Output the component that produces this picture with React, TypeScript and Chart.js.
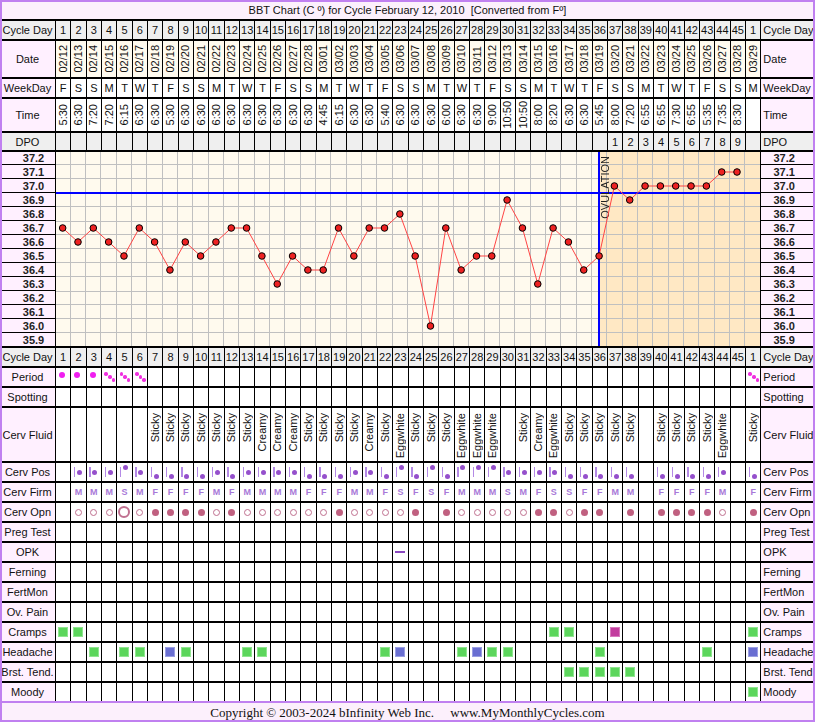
import React, { useEffect, useRef } from 'react';
import { Chart, registerables } from 'chart.js';

Chart.register(...registerables);

// ---------------- DATA ----------------
const titleText = 'BBT Chart (C \u00BA) for Cycle February 12, 2010  [Converted from F\u00BA]';
const copyrightText = 'Copyright \u00A9 2003-2024 bInfinity Web Inc.     www.MyMonthlyCycles.com';

const cycleDays = ['1','2','3','4','5','6','7','8','9','10','11','12','13','14','15','16','17','18','19','20','21','22','23','24','25','26','27','28','29','30','31','32','33','34','35','36','37','38','39','40','41','42','43','44','45','1'];
const dates = ['02/12','02/13','02/14','02/15','02/16','02/17','02/18','02/19','02/20','02/21','02/22','02/23','02/24','02/25','02/26','02/27','02/28','03/01','03/02','03/03','03/04','03/05','03/06','03/07','03/08','03/09','03/10','03/11','03/12','03/13','03/14','03/15','03/16','03/17','03/18','03/19','03/20','03/21','03/22','03/23','03/24','03/25','03/26','03/27','03/28','03/29'];
const weekDays = ['F','S','S','M','T','W','T','F','S','S','M','T','W','T','F','S','S','M','T','W','T','F','S','S','M','T','W','T','F','S','S','M','T','W','T','F','S','S','M','T','W','T','F','S','S','M'];
const times = ['5:30','6:30','7:20','7:20','6:15','6:30','6:30','5:30','6:30','6:30','6:30','6:30','6:30','6:30','6:30','6:30','6:30','4:45','6:15','6:30','6:30','5:40','6:30','6:30','6:30','6:00','6:30','6:30','9:00','10:50','10:50','8:00','8:20','6:30','6:30','5:45','8:00','7:20','6:55','6:55','7:30','6:55','5:35','7:35','8:30',''];
const dpo = ['','','','','','','','','','','','','','','','','','','','','','','','','','','','','','','','','','','','','1','2','3','4','5','6','7','8','9',''];
const temps = [36.7,36.6,36.7,36.6,36.5,36.7,36.6,36.4,36.6,36.5,36.6,36.7,36.7,36.5,36.3,36.5,36.4,36.4,36.7,36.5,36.7,36.7,36.8,36.5,36.0,36.7,36.4,36.5,36.5,36.9,36.7,36.3,36.7,36.6,36.4,36.5,37.0,36.9,37.0,37.0,37.0,37.0,37.0,37.1,37.1,null];
const tempTicks = ['37.2','37.1','37.0','36.9','36.8','36.7','36.6','36.5','36.4','36.3','36.2','36.1','36.0','35.9'];
const coverline = 36.95;
const ovulationDay = 36;

const period = ['H','H','H','L','L','L','','','','','','','','','','','','','','','','','','','','','','','','','','','','','','','','','','','','','','','','L'];
const cervFluid = ['','','','','','','Sticky','Sticky','Sticky','Sticky','Sticky','Sticky','Sticky','Creamy','Creamy','Creamy','Sticky','Sticky','Sticky','Sticky','Creamy','Sticky','Eggwhite','Sticky','Sticky','Sticky','Eggwhite','Eggwhite','Eggwhite','','Sticky','Creamy','Eggwhite','Sticky','Sticky','Sticky','Sticky','Sticky','','Sticky','Sticky','Sticky','Sticky','Eggwhite','','Sticky'];
const cervPos = ['','M','M','M','H','M','L','L','L','L','M','L','M','M','M','M','L','L','L','M','M','L','H','L','H','L','H','H','H','M','M','M','M','L','L','L','L','L','','L','L','L','L','M','','L'];
const cervFirm = ['','M','M','M','S','M','F','F','F','F','M','F','M','M','M','M','F','F','F','M','M','F','S','F','S','F','M','M','M','S','M','F','S','S','F','F','M','M','','F','F','F','F','M','','F'];
const cervOpn = ['','o','o','o','O','o','c','c','c','c','o','c','o','o','o','o','o','o','c','o','o','o','o','c','','c','o','o','o','o','o','c','c','o','c','c','','c','','c','c','c','c','o','','c'];
const opkNegative = [23];
const crampsMild = [1, 2, 33, 34, 46];
const crampsSevere = [37];
const headacheMild = [3, 5, 6, 9, 13, 14, 22, 27, 29, 30, 36, 43];
const headacheModerate = [8, 23, 28, 46];
const breastTendMild = [34, 35, 36, 37, 38];
const moodyMild = [46];

// ---------------- LAYOUT ----------------
const FONT = '"Liberation Sans", Arial, Helvetica, sans-serif';
const PINK = '#FFF0FF';
const GRAY = '#EFEFEF';
const CREAM = '#FFFBEF';
const PURPLE = '#C080F0';
const X0 = 55;
const X1 = 760.33;
const NC = cycleDays.length;
const CW = (X1 - X0) / NC;
const RL = 761.33; // right label column left
const T_TOP = 151;
const T_H = 196;

const colLeft = (i: number) => X0 + i * CW + 1;
const colCenter = (i: number) => X0 + (i + 0.5) * CW + 0.5;

const bgPlugin = {
  id: 'bbtBackground',
  beforeDraw(chart: any) {
    const { ctx, chartArea: a, scales } = chart;
    const x = scales.x;
    ctx.save();
    ctx.fillStyle = '#FFFAEE';
    ctx.fillRect(a.left, a.top, a.right - a.left, a.bottom - a.top);
    const ovX = x.getPixelForValue(ovulationDay - 1);
    ctx.fillStyle = '#FFE8C4';
    ctx.fillRect(ovX, a.top, a.right - ovX, a.bottom - a.top);
    ctx.restore();
  },
  beforeDatasetsDraw(chart: any) {
    const { ctx, chartArea: a, scales } = chart;
    const x = scales.x;
    const y = scales.y;
    ctx.save();
    ctx.strokeStyle = '#0000FF';
    ctx.lineWidth = 2;
    const cy = Math.round(y.getPixelForValue(coverline));
    ctx.beginPath();
    ctx.moveTo(a.left, cy);
    ctx.lineTo(a.right, cy);
    ctx.stroke();
    const ox = Math.round(x.getPixelForValue(ovulationDay - 1));
    ctx.beginPath();
    ctx.moveTo(ox, a.top);
    ctx.lineTo(ox, a.bottom);
    ctx.stroke();
    ctx.translate(ox + 1.5, a.top + 5);
    ctx.rotate(-Math.PI / 2);
    ctx.fillStyle = '#222';
    ctx.font = '11px ' + FONT;
    ctx.textAlign = 'right';
    ctx.textBaseline = 'top';
    ctx.fillText('OVULATION', 0, 0);
    ctx.restore();
  },
};

type Node = React.ReactElement;

export default function App() {
  const canvasRef = useRef<HTMLCanvasElement>(null);

  useEffect(() => {
    const el = canvasRef.current;
    if (!el) return;
    const tickVals = tempTicks.map((t) => parseFloat(t));
    const yMax = tickVals[0] + 0.05;
    const yMin = tickVals[tickVals.length - 1] - 0.05;
    const chart = new Chart(el, {
      type: 'line',
      data: {
        labels: cycleDays,
        datasets: [
          {
            data: temps,
            borderColor: '#FF4444',
            borderWidth: 1,
            pointRadius: 3.3,
            pointBorderWidth: 1,
            pointBackgroundColor: '#EE2222',
            pointBorderColor: '#000000',
            tension: 0,
            spanGaps: false,
            clip: false,
          } as any,
        ],
      },
      options: {
        animation: false,
        responsive: false,
        maintainAspectRatio: false,
        devicePixelRatio: 1,
        events: [],
        layout: { padding: 0, autoPadding: false },
        plugins: { legend: { display: false }, tooltip: { enabled: false } },
        scales: {
          x: {
            type: 'category',
            offset: true,
            grid: { color: '#C0C0C0', lineWidth: 1, offset: true, drawTicks: false },
            ticks: { display: false },
            border: { display: false },
          },
          y: {
            type: 'linear',
            min: yMin,
            max: yMax,
            afterBuildTicks: (s: any) => {
              s.ticks = tickVals.slice(0, -1).map((v) => ({ value: v - 0.05 }));
            },
            grid: { color: '#C0C0C0', lineWidth: 1, drawTicks: false },
            ticks: { display: false },
            border: { display: false },
          },
        },
      },
      plugins: [bgPlugin],
    });
    return () => chart.destroy();
  }, []);

  const els: Node[] = [];
  let key = 0;
  const box = (l: number, t: number, w: number, h: number, style: React.CSSProperties, children?: React.ReactNode) => {
    els.push(
      <div
        key={key++}
        style={{ position: 'absolute', left: l, top: t, width: w, height: h, boxSizing: 'border-box', ...style }}
      >
        {children}
      </div>
    );
  };
  const centerFlex: React.CSSProperties = { display: 'flex', alignItems: 'center', justifyContent: 'center', overflow: 'hidden' };
  const vText = (s: string, size = 11) => (
    <span style={{ writingMode: 'vertical-rl', transform: 'rotate(180deg)', fontSize: size, lineHeight: '13px', whiteSpace: 'nowrap' }}>{s}</span>
  );

  // title
  box(0, 0, 815, 19, { ...centerFlex, background: '#FCF0FC', fontSize: 11, color: '#111', whiteSpace: 'pre' }, titleText);

  const labelPair = (label: string, y0: number, y1: number, bg: string) => {
    box(0, y0, X0, y1 - y0, { ...centerFlex, background: bg, fontSize: 11, color: '#111', whiteSpace: 'nowrap' }, label);
    box(RL, y0, 815 - RL, y1 - y0, { ...centerFlex, background: bg, fontSize: 11, color: '#111', whiteSpace: 'nowrap', justifyContent: 'flex-start', paddingLeft: 2 }, label);
  };

  // header rows
  const headerRows = [
    { label: 'Cycle Day', y0: 21, y1: 39, lbg: GRAY, cbg: GRAY, values: cycleDays, rot: false },
    { label: 'Date', y0: 41, y1: 77, lbg: PINK, cbg: CREAM, values: dates, rot: true },
    { label: 'WeekDay', y0: 79, y1: 97, lbg: PINK, cbg: '#FFFFFF', values: weekDays, rot: false },
    { label: 'Time', y0: 99, y1: 131, lbg: PINK, cbg: '#FFFFFF', values: times, rot: true },
    { label: 'DPO', y0: 133, y1: 150, lbg: GRAY, cbg: GRAY, values: dpo, rot: false },
  ];
  headerRows.forEach((r) => {
    labelPair(r.label, r.y0, r.y1, r.lbg);
    r.values.forEach((v, i) => {
      box(colLeft(i), r.y0, CW - 1, r.y1 - r.y0, { ...centerFlex, background: r.cbg, fontSize: 11, color: '#111' }, r.rot ? vText(v) : v);
    });
  });

  // temperature labels
  const rowH = T_H / tempTicks.length;
  tempTicks.forEach((t, i) => {
    const top = T_TOP + i * rowH;
    box(0, top, X0, rowH - 1, { ...centerFlex, background: PINK, fontSize: 11, fontWeight: 'bold', color: '#222', paddingLeft: 12 }, t);
    box(RL, top, 815 - RL, rowH - 1, { ...centerFlex, background: PINK, fontSize: 11, fontWeight: 'bold', color: '#222', paddingRight: 8 }, t);
  });

  // lower rows
  const lowerRows = [
    { label: 'Cycle Day', h: 18, kind: 'cd' },
    { label: 'Period', h: 18, kind: 'period' },
    { label: 'Spotting', h: 18, kind: '' },
    { label: 'Cerv Fluid', h: 53, kind: 'fluid' },
    { label: 'Cerv Pos', h: 18, kind: 'pos' },
    { label: 'Cerv Firm', h: 18, kind: 'firm' },
    { label: 'Cerv Opn', h: 18, kind: 'opn' },
    { label: 'Preg Test', h: 18, kind: '' },
    { label: 'OPK', h: 18, kind: 'opk' },
    { label: 'Ferning', h: 18, kind: '' },
    { label: 'FertMon', h: 18, kind: '' },
    { label: 'Ov. Pain', h: 18, kind: '' },
    { label: 'Cramps', h: 18, kind: 'cramps' },
    { label: 'Headache', h: 18, kind: 'headache' },
    { label: 'Brst. Tend.', h: 18, kind: 'breast' },
    { label: 'Moody', h: 18, kind: 'moody' },
  ];
  const square = (cx: number, cy: number, fill: string, edge: string) =>
    box(cx - 5, cy - 5, 10, 10, { background: fill, border: '1px solid ' + edge });
  const GREEN = ['#5CD65C', '#8FE68F'];
  const BLUE = ['#6A6FD2', '#9A9EE2'];
  const MAGENTA = ['#C23C9E', '#D878BE'];

  let y = 348;
  lowerRows.forEach((r) => {
    const y0 = y;
    const y1 = y + r.h;
    const cy = (y0 + y1) / 2;
    const isCd = r.kind === 'cd';
    labelPair(r.label, y0, y1, isCd ? GRAY : PINK);
    for (let i = 0; i < NC; i++) {
      const cx = colCenter(i);
      const day = i + 1;
      box(colLeft(i), y0, CW - 1, r.h, { ...centerFlex, background: isCd ? GRAY : '#FFFFFF', fontSize: 11, color: '#111' }, isCd ? cycleDays[i] : null);
      if (r.kind === 'period') {
        if (period[i] === 'H') box(cx - 4, cy - 5.5, 6, 6, { background: '#F01EF0', borderRadius: '50%' });
        if (period[i] === 'L') {
          [[-3, -3], [0.7, 0], [4.3, 3]].forEach(([dx, dy]) =>
            box(cx + dx - 1.7, cy + dy - 1.7, 3.4, 3.4, { background: '#F030E0', borderRadius: '50%' })
          );
        }
      } else if (r.kind === 'fluid' && cervFluid[i]) {
        box(cx - 7, y0 + 5, 14, r.h - 6, { display: 'flex', justifyContent: 'center', alignItems: 'flex-start', color: '#111' }, vText(cervFluid[i]));
      } else if (r.kind === 'pos' && cervPos[i]) {
        box(cx - 4.5, cy - 5.5, 1.4, 10, { background: '#B48AE6' });
        const dy = cervPos[i] === 'H' ? -4.5 : cervPos[i] === 'L' ? 4 : 0;
        box(cx - 1.5, cy + dy - 2.5, 5, 5, { background: '#9550CC', borderRadius: '50%' });
      } else if (r.kind === 'firm' && cervFirm[i]) {
        box(colLeft(i), y0, CW - 1, r.h, { ...centerFlex, fontSize: 9, fontWeight: 'bold', color: '#A878D8' }, cervFirm[i]);
      } else if (r.kind === 'opn' && cervOpn[i]) {
        const t = cervOpn[i];
        if (t === 'o') box(cx - 3.5, cy - 3.5, 7, 7, { border: '1.2px solid #C07090', borderRadius: '50%' });
        if (t === 'O') box(cx - 6, cy - 6, 12, 12, { border: '2px solid #C07090', borderRadius: '50%' });
        if (t === 'c') box(cx - 3.5, cy - 3.5, 7, 7, { background: '#C06080', borderRadius: '50%' });
      } else if (r.kind === 'opk' && opkNegative.includes(day)) {
        box(cx - 5, cy - 1, 10, 2, { background: '#8A48C0' });
      } else if (r.kind === 'cramps') {
        if (crampsMild.includes(day)) square(cx, cy, GREEN[0], GREEN[1]);
        if (crampsSevere.includes(day)) square(cx, cy, MAGENTA[0], MAGENTA[1]);
      } else if (r.kind === 'headache') {
        if (headacheMild.includes(day)) square(cx, cy, GREEN[0], GREEN[1]);
        if (headacheModerate.includes(day)) square(cx, cy, BLUE[0], BLUE[1]);
      } else if (r.kind === 'breast') {
        if (breastTendMild.includes(day)) square(cx, cy, GREEN[0], GREEN[1]);
      } else if (r.kind === 'moody') {
        if (moodyMild.includes(day)) square(cx, cy, GREEN[0], GREEN[1]);
      }
    }
    y = y1 + 2;
  });

  // copyright
  box(0, 703, 815, 19, {
    ...centerFlex,
    background: '#FCF0FC',
    fontFamily: '"Liberation Serif", "Times New Roman", serif',
    fontSize: 13,
    color: '#111',
    whiteSpace: 'pre',
  }, copyrightText);

  return (
    <div
      style={{
        position: 'absolute',
        left: 0,
        top: 0,
        width: 815,
        height: 722,
        background: '#000',
        fontFamily: FONT,
        overflow: 'hidden',
      }}
    >
      {els}
      <canvas
        ref={canvasRef}
        width={705}
        height={T_H}
        style={{ position: 'absolute', left: X0, top: T_TOP, width: 705, height: T_H }}
      />
      <div style={{ position: 'absolute', left: 0, top: 150, width: 815, height: 2, background: '#000' }} />
      <div style={{ position: 'absolute', left: 0, top: 346, width: 815, height: 2, background: '#000' }} />
      <div style={{ position: 'absolute', left: X0, top: T_TOP, width: 1, height: T_H, background: '#000' }} />
      <div style={{ position: 'absolute', left: 0, top: 701, width: 815, height: 2, background: PURPLE }} />
      <div
        style={{
          position: 'absolute',
          left: 0,
          top: 0,
          width: 815,
          height: 722,
          border: '2px solid ' + PURPLE,
          boxSizing: 'border-box',
          pointerEvents: 'none',
        }}
      />
    </div>
  );
}
